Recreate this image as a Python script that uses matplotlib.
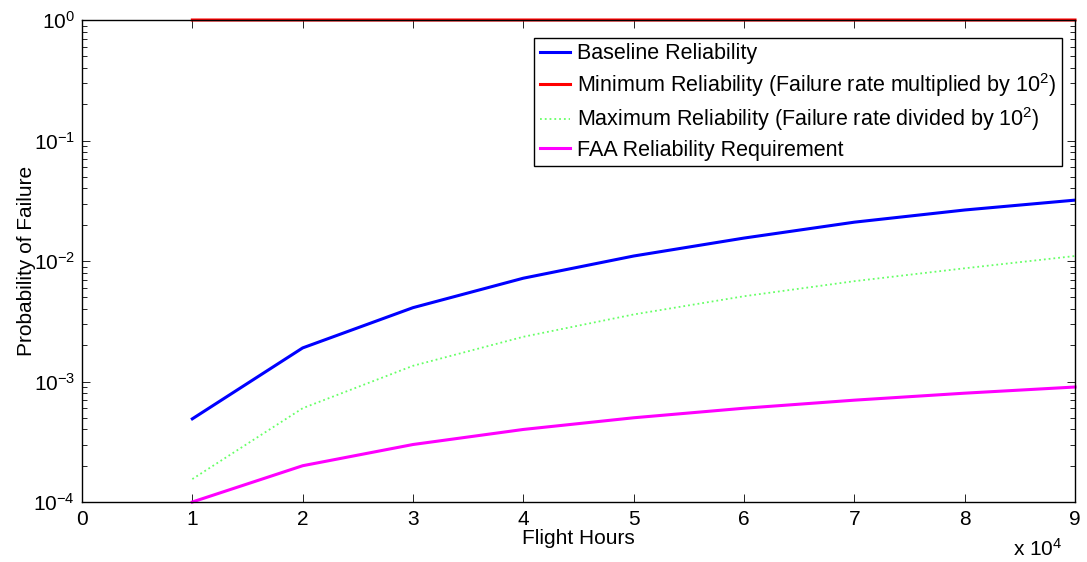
import matplotlib
matplotlib.use("Agg")
import matplotlib.pyplot as plt
from matplotlib.ticker import LogLocator, NullFormatter

plt.rcParams['font.family'] = ['Liberation Sans', 'DejaVu Sans']
plt.rcParams['mathtext.fontset'] = 'custom'
plt.rcParams['mathtext.rm'] = 'Liberation Sans'
plt.rcParams['mathtext.it'] = 'Liberation Sans'

hours = [1, 2, 3, 4, 5, 6, 7, 8, 9]  # x 10^4
baseline = [4.9e-4, 1.9e-3, 4.1e-3, 7.2e-3, 1.1e-2, 1.55e-2, 2.1e-2, 2.65e-2, 3.2e-2]
minimum = [0.9999, 1.0, 1.0, 1.0, 1.0, 1.0, 1.0, 1.0, 1.0]
maximum = [1.55e-4, 6.0e-4, 1.35e-3, 2.35e-3, 3.6e-3, 5.1e-3, 6.8e-3, 8.7e-3, 1.1e-2]
faa = [1e-4, 2e-4, 3e-4, 4e-4, 5e-4, 6e-4, 7e-4, 8e-4, 9e-4]

labels = ['Baseline Reliability',
          'Minimum Reliability (Failure rate multiplied by 10$^2$)',
          'Maximum Reliability (Failure rate divided by 10$^2$)',
          'FAA Reliability Requirement']

fig = plt.figure(figsize=(10.87, 5.62), dpi=100)
ax = fig.add_axes([82/1087, 1-502/562, (1075-82)/1087, (502-20)/562])

ax.plot(hours, baseline, color='#0000ff', lw=2.2, label=labels[0])
ax.plot(hours, minimum, color='#ff0000', lw=2.2, label=labels[1], clip_on=False)
ax.plot(hours, maximum, color='#66ff66', lw=1.3, ls=':', label=labels[2])
ax.plot(hours, faa, color='#ff00ff', lw=2.2, label=labels[3], clip_on=False)

ax.set_yscale('log')
ax.set_xlim(0, 9)
ax.set_ylim(1e-4, 1)
ax.set_xticks(range(10))
ax.set_xticklabels([str(i) for i in range(10)])
ax.set_yticks([1e-4, 1e-3, 1e-2, 1e-1, 1])
ax.set_yticklabels(['10$^{-4}$', '10$^{-3}$', '10$^{-2}$', '10$^{-1}$', '10$^{0}$'])
ax.yaxis.set_minor_locator(LogLocator(base=10, subs=range(2, 10)))
ax.yaxis.set_minor_formatter(NullFormatter())
ax.tick_params(axis='both', which='both', direction='in', top=True, right=True,
               labelsize=15, colors='black')
ax.tick_params(axis='both', which='major', length=6, width=0.6)
ax.tick_params(axis='y', which='minor', length=3.5, width=0.6)
ax.tick_params(axis='x', which='major', pad=6)
ax.tick_params(axis='y', which='major', pad=5)
for s in ax.spines.values():
    s.set_linewidth(1.0)

ax.set_xlabel('Flight Hours', fontsize=15, labelpad=0)
ax.set_ylabel('Probability of Failure', fontsize=15, labelpad=-2)
ax.text((1062-82)/(1075-82), -(538-502)/(502-20), r'x 10$^{4}$', transform=ax.transAxes,
        ha='right', va='top', fontsize=15)

leg = ax.legend(loc='upper right', fontsize=15.5, frameon=True, fancybox=False, framealpha=1,
                edgecolor='black', borderpad=0.25, labelspacing=0.3, handlelength=1.4,
                handletextpad=0.35, borderaxespad=0)
leg.get_frame().set_linewidth(1.0)
leg.set_bbox_to_anchor(((1062-82)/(1075-82), (502-38)/(502-20)), transform=ax.transAxes)

fig.savefig('out.png', dpi=100)
